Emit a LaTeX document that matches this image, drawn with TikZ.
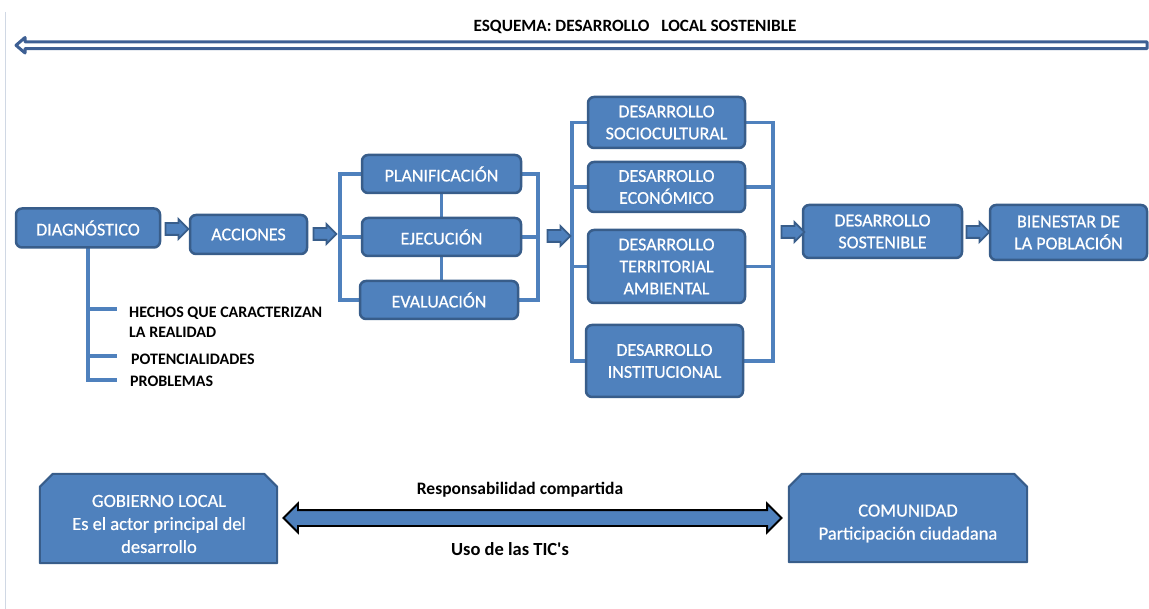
\documentclass[tikz,border=0pt]{standalone}
\usepackage{fontspec}
\setmainfont{Carlito}
\newfontfamily\boxfont{Carlito}[FakeBold=0.6]
\usetikzlibrary{shapes.arrows,backgrounds}
\definecolor{boxfill}{HTML}{4F81BD}
\definecolor{boxline}{HTML}{385D8A}
\definecolor{topblue}{HTML}{3D5F93}
\definecolor{edgegray}{HTML}{D0D8E4}
\tikzset{
  box/.style={draw=boxline, fill=boxfill, line width=2.5pt, rounded corners=6pt, text=white,
    font=\boxfont\fontsize{18}{22}\selectfont, align=center, inner sep=0pt},
  conn/.style={draw=boxfill, line width=3.2pt},
  blockarrow/.style={single arrow, draw=boxline, fill=boxfill, line width=1.8pt,
    minimum height=23pt, inner xsep=0pt, inner ysep=5pt, single arrow head extend=4pt},
  leaf/.style={font=\fontsize{16}{20}\bfseries\selectfont, anchor=base west, inner sep=0pt},
  actorframe/.style={inner sep=0pt},
  actor/.style={draw=boxline, fill=boxfill, line width=2pt, line join=round},
  actortext/.style={text=white, align=center, inner sep=0pt,
    font=\boxfont\fontsize{18.5}{23}\selectfont},
  caption/.style={font=\fontsize{17.5}{20}\bfseries\selectfont, inner sep=0pt},
}
\begin{document}
\begin{tikzpicture}[x=1pt,y=-1pt]
\useasboundingbox (0,0) rectangle (1149,609);
% frame line and title arrow
\draw[edgegray, line width=1pt] (5,12) -- (5,609);
\node[caption, font=\fontsize{17.2}{20}\bfseries\selectfont] (title) at (635,27) {ESQUEMA: DESARROLLO\ \ \ LOCAL SOSTENIBLE};
\draw[topblue, line width=3pt, line join=round]
  (1147,42) -- (25,42) -- (25,37.5) -- (16,45.3) -- (25,53) -- (25,48.7) -- (1147,48.7) -- cycle;

% main boxes
\node[box, minimum width=144pt, minimum height=39pt] (diag) at (88,228) {DIAGNÓSTICO};
\node[box, minimum width=117pt, minimum height=39pt] (acc) at (248.5,234.5) {ACCIONES};
\node[box, minimum width=159pt, minimum height=38pt] (plan) at (441.5,174) {PLANIFICACIÓN};
\node[box, minimum width=159pt, minimum height=38pt] (ejec) at (441.5,237) {EJECUCIÓN};
\node[box, minimum width=158pt, minimum height=38pt] (eval) at (439,300) {EVALUACIÓN};
\node[box, minimum width=157pt, minimum height=51pt] (soc) at (666.5,122.5) {DESARROLLO\\SOCIOCULTURAL};
\node[box, minimum width=157pt, minimum height=50pt] (eco) at (666.5,187) {DESARROLLO\\ECONÓMICO};
\node[box, minimum width=157pt, minimum height=73pt] (ter) at (666.5,266.5) {DESARROLLO\\TERRITORIAL\\AMBIENTAL};
\node[box, minimum width=157pt, minimum height=72pt] (ins) at (664.5,361) {DESARROLLO\\INSTITUCIONAL};
\node[box, minimum width=159pt, minimum height=53pt] (sost) at (882.5,231.5) {DESARROLLO\\SOSTENIBLE};
\node[box, minimum width=157pt, minimum height=55pt] (bien) at (1068.5,232.5) {BIENESTAR DE\\LA POBLACIÓN};

% block arrows
\node[blockarrow] (a1) at (174,229) {};
\node[blockarrow] (a2) at (322,234) {};
\node[blockarrow] (a3) at (556,236) {};
\node[blockarrow] (a4) at (790,232) {};
\node[blockarrow] (a5) at (975,232) {};

% diagnostic leaves
\node[leaf] (h1) at (129,318) {HECHOS QUE CARACTERIZAN};
\node[leaf] (h1b) at (129,338) {LA REALIDAD};
\node[leaf] (h2) at (131,365) {POTENCIALIDADES};
\node[leaf] (h3) at (130,387) {PROBLEMAS};
\coordinate (s1) at (117,309);
\coordinate (s2) at (117,356);
\coordinate (s3) at (117,380);

% bracket coordinates
\coordinate (lb1) at (340,0);
\coordinate (rb1) at (538,0);
\coordinate (lb2) at (572,0);
\coordinate (rb2) at (773,0);

\begin{scope}[on background layer]
  \draw[conn] (diag.center) -- (diag.center |- s3) -- (s3);
  \draw[conn] (diag.center |- s1) -- (s1);
  \draw[conn] (diag.center |- s2) -- (s2);
  % first group
  \draw[conn] (plan.center) -- (plan.center -| lb1) -- (eval.center -| lb1) -- (eval.center);
  \draw[conn] (ejec.center) -- (ejec.center -| lb1);
  \draw[conn] (plan.center) -- (plan.center |- eval.center);
  \draw[conn] (plan.center) -- (plan.center -| rb1) -- (eval.center -| rb1) -- (eval.center);
  \draw[conn] (ejec.center) -- (ejec.center -| rb1);
  % second group
  \draw[conn] (soc.center) -- (soc.center -| lb2) -- (ins.center -| lb2) -- (ins.center);
  \draw[conn] (eco.center) -- (eco.center -| lb2);
  \draw[conn] (ter.center) -- (ter.center -| lb2);
  \draw[conn] (soc.center) -- (soc.center -| rb2) -- (ins.center -| rb2) -- (ins.center);
  \draw[conn] (eco.center) -- (eco.center -| rb2);
  \draw[conn] (ter.center) -- (ter.center -| rb2);
\end{scope}

% bottom actors (chamfered top corners)
\node[actorframe, minimum width=237pt, minimum height=89pt] (gob) at (158.5,518.5) {};
\node[actorframe, minimum width=238pt, minimum height=88pt] (com) at (908,518) {};
\foreach \n in {gob,com}{
  \draw[actor] (\n.south west) -- ([yshift=-13pt]\n.north west) -- ([xshift=13pt]\n.north west)
    -- ([xshift=-13pt]\n.north east) -- ([yshift=-13pt]\n.north east) -- (\n.south east) -- cycle;
}
\node[actortext] (gobt) at (159,524) {GOBIERNO LOCAL\\Es el actor principal del\\desarrollo};
\node[actortext] (comt) at (908,523.5) {COMUNIDAD\\Participación ciudadana};
\node[double arrow, draw=black, fill=boxfill, line width=1.8pt, inner xsep=0pt, inner ysep=7pt,
  minimum height=498pt, double arrow head extend=6.5pt] (link) at (532.5,518) {};
\node[caption] (resp) at (520,490) {Responsabilidad compartida};
\node[caption, font=\fontsize{18.5}{20}\bfseries\selectfont] (tic) at (510,549) {Uso de las TIC\textquotesingle s};
\end{tikzpicture}
\end{document}
